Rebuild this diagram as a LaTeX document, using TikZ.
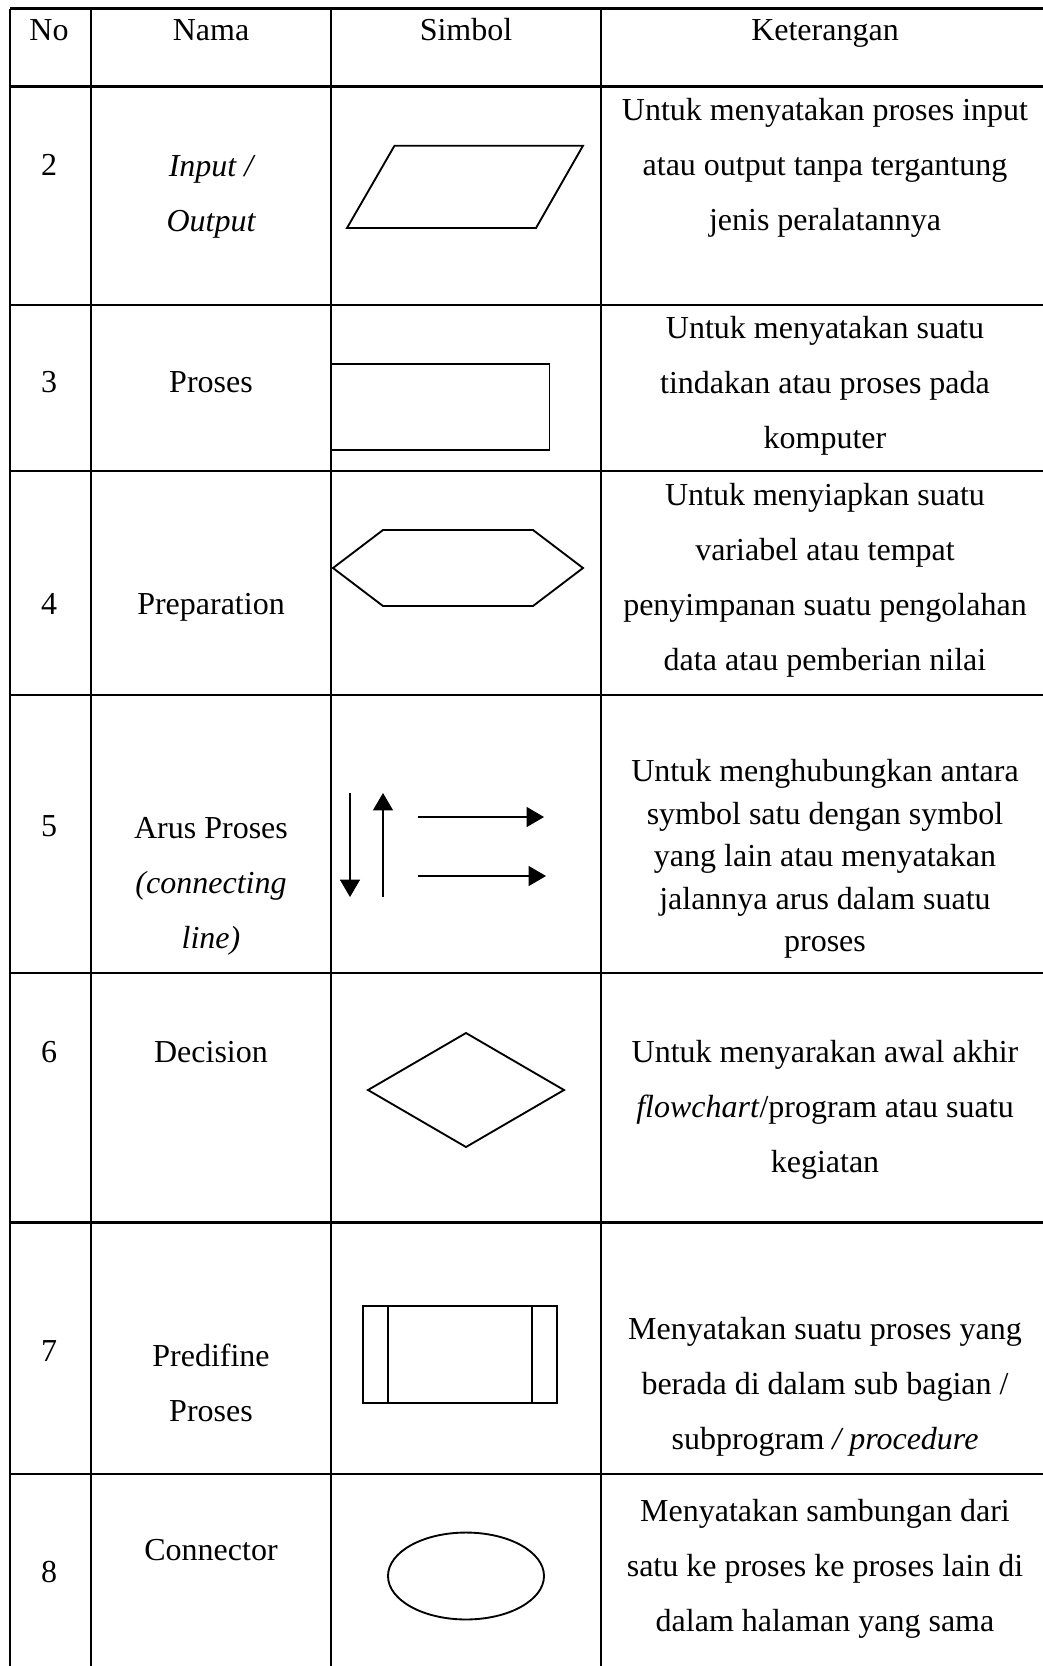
\documentclass[tikz,border=0pt]{standalone}
\usepackage{fontspec}
\setmainfont{Liberation Serif}
\usetikzlibrary{arrows.meta}

\begin{document}
\begin{tikzpicture}[x=0.375pt,y=-0.375pt,>={Triangle[length=6.5pt,width=7.5pt]},
  cell/.style={align=center,font=\fontsize{12}{20.6}\selectfont,inner sep=0pt,
    execute at begin node=\strut,execute at end node=\strut},
  grid/.style={line width=0.9pt},
  sym/.style={line width=0.7pt,line join=miter}]
\useasboundingbox (0,0) rectangle (1043,1666);
% garis tabel
\foreach \y in {8.5,86.5,305,471,695,973,1222.5,1474}
  \draw[grid](10,\y)--(1050,\y);
\foreach \x in {10,91,331,601}
  \draw[grid](\x,8.5)--(\x,1670);
% judul
\node[cell](hno) at (49,30){No};
\node[cell](hnama) at (211,30){Nama};
\node[cell](hsimbol) at (466,30){Simbol};
\node[cell](hket) at (825,30){Keterangan};
% 2
\node[cell](no2) at (49,165){2};
\node[cell,font=\fontsize{12}{20.6}\selectfont\itshape](nama2) at (211,202){Input /\\Output};
\node[cell](ket2) at (825,173){Untuk menyatakan proses input\\atau output tanpa tergantung\\jenis peralatannya};
\draw[sym](394.5,145.7)--(583,145.7)--(536,228)--(347,228)--cycle;
% 3
\node[cell](no3) at (49,381){3};
\node[cell](nama3) at (211,381){Proses};
\node[cell](ket3) at (825,391){Untuk menyatakan suatu\\tindakan atau proses pada\\komputer};
\draw[sym](331.5,364) rectangle (549.5,450);
% 4
\node[cell](no4) at (49,603){4};
\node[cell](nama4) at (211,603){Preparation};
\node[cell](ket4) at (825,585){Untuk menyiapkan suatu\\variabel atau tempat\\penyimpanan suatu pengolahan\\data atau pemberian nilai};
\draw[sym](333,568)--(383,530)--(533,530)--(583,568)--(533,606)--(383,606)--cycle;
% 5
\node[cell](no5) at (49,825){5};
\node[cell](nama5) at (211,891){Arus Proses\\\textit{(connecting}\\\textit{line)}};
\node[cell,font=\fontsize{12}{15.9}\selectfont](ket5) at (825,862){Untuk menghubungkan antara\\symbol satu dengan symbol\\yang lain atau menyatakan\\jalannya arus dalam suatu\\proses};
\draw[->,thin](350,793)--(350,897);
\draw[->,thin](383,897)--(383,793);
\draw[->,thin](418,817)--(544,817);
\draw[->,thin](418,876)--(546,876);
% 6
\node[cell](no6) at (49,1051){6};
\node[cell](nama6) at (211,1051){Decision};
\node[cell](ket6) at (825,1115){Untuk menyarakan awal akhir\\\textit{flowchart}/program atau suatu\\kegiatan};
\draw[sym](466,1033)--(564,1090)--(466,1147)--(368,1090)--cycle;
% 7
\node[cell](no7) at (49,1350){7};
\node[cell](nama7) at (211,1391){Predifine\\Proses};
\node[cell](ket7) at (825,1392){Menyatakan suatu proses yang\\berada di dalam sub bagian /\\subprogram \textit{/ procedure}};
\draw[sym](362.6,1306) rectangle (557,1403);
\draw[sym](387.7,1306)--(387.7,1403) (532,1306)--(532,1403);
% 8
\node[cell](no8) at (49,1571){8};
\node[cell](nama8) at (211,1549){Connector};
\node[cell](ket8) at (825,1574){Menyatakan sambungan dari\\satu ke proses ke proses lain di\\dalam halaman yang sama};
\draw[sym](466,1576) ellipse [x radius=29.25pt, y radius=16.3pt];
\end{tikzpicture}
\end{document}
